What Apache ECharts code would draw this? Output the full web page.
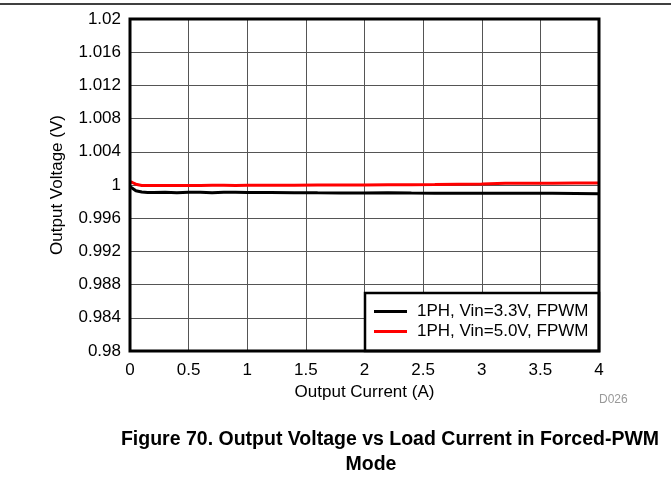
<!DOCTYPE html>
<html>
<head>
<meta charset="utf-8">
<script src="https://cdn.jsdelivr.net/npm/echarts@6/dist/echarts.min.js"></script>
<style>html,body{margin:0;padding:0;background:#fff;}#c{width:671px;height:486px;}</style>
</head>
<body>
<div id="c"></div>
<script>
const current = [0, 0.02, 0.05, 0.1, 0.15, 0.2, 0.3, 0.4, 0.5, 0.6, 0.7, 0.8, 0.9, 1.0, 1.2, 1.4, 1.6, 1.8, 2.0, 2.2, 2.4, 2.6, 2.8, 3.0, 3.2, 3.4, 3.6, 3.8, 4.0];
const vout33 = [0.9998, 0.9996, 0.9993, 0.99915, 0.9991, 0.9991, 0.99912, 0.99908, 0.99912, 0.99912, 0.99908, 0.99912, 0.99912, 0.9991, 0.9991, 0.99908, 0.99906, 0.99905, 0.99903, 0.99906, 0.99903, 0.99902, 0.999, 0.999, 0.99902, 0.999, 0.999, 0.99897, 0.99894];
const vout50 = [1.0004, 1.0003, 1.0001, 0.99995, 0.99993, 0.99993, 0.99993, 0.99995, 0.99993, 0.99995, 0.99997, 0.99997, 0.99995, 0.99997, 0.99997, 0.99998, 1.0000, 1.0000, 1.0000, 1.00002, 1.00003, 1.00005, 1.0001, 1.00012, 1.0002, 1.0002, 1.00022, 1.00024, 1.00025];
const yTickLabels = ['0.98','0.984','0.988','0.992','0.996','1','1.004','1.008','1.012','1.016','1.02'];
const xTickLabels = ['0','0.5','1','1.5','2','2.5','3','3.5','4'];
const seriesNames = ['1PH, Vin=3.3V, FPWM', '1PH, Vin=5.0V, FPWM'];

const FONT = '"Liberation Sans", Arial, sans-serif';
const G = {left: 130, top: 19, width: 469, height: 332};

const chart = echarts.init(document.getElementById('c'));
chart.setOption({
  animation: false,
  textStyle: {fontFamily: FONT},
  grid: {left: G.left, top: G.top, width: G.width, height: G.height, show: false},
  xAxis: {
    type: 'value', min: 0, max: 4, interval: 0.5,
    name: 'Output Current (A)', nameLocation: 'middle', nameGap: 29,
    nameTextStyle: {fontSize: 17, color: '#000', fontFamily: FONT},
    axisLine: {show: false},
    axisTick: {show: false},
    axisLabel: {fontSize: 17, color: '#000', margin: 11, fontFamily: FONT,
      formatter: v => xTickLabels[Math.round(v / 0.5)]},
    splitLine: {show: true, lineStyle: {color: '#555', width: 1}}
  },
  yAxis: {
    type: 'value', min: 0.98, max: 1.02, interval: 0.004,
    name: 'Output Voltage (V)', nameLocation: 'middle', nameGap: 64,
    nameTextStyle: {fontSize: 17, color: '#000', fontFamily: FONT},
    axisLine: {show: false},
    axisTick: {show: false},
    axisLabel: {fontSize: 17, color: '#000', margin: 9, fontFamily: FONT,
      formatter: v => yTickLabels[Math.round((v - 0.98) / 0.004)]},
    splitLine: {show: true, lineStyle: {color: '#555', width: 1}}
  },
  legend: {
    orient: 'vertical', left: 374, top: 303, padding: 0, z: 60,
    icon: 'rect', itemWidth: 33, itemHeight: 3, itemGap: 3,
    textStyle: {fontSize: 17, color: '#000', fontFamily: FONT, padding: [0, 0, 0, 5]},
    data: seriesNames
  },
  series: [
    {name: seriesNames[0], type: 'line', symbol: 'none', color: '#000',
     lineStyle: {width: 3, color: '#000'}, data: current.map((x, i) => [x, vout33[i]])},
    {name: seriesNames[1], type: 'line', symbol: 'none', color: '#ff0000',
     lineStyle: {width: 3, color: '#ff0000'}, data: current.map((x, i) => [x, vout50[i]])}
  ],
  graphic: [
    {type: 'line', z: 100, shape: {x1: 0, y1: 4, x2: 671, y2: 4}, style: {stroke: '#000', lineWidth: 1.5}},
    {type: 'rect', z: 100, shape: {x: G.left, y: G.top, width: G.width, height: G.height},
     style: {fill: null, stroke: '#000', lineWidth: 3}},
    {type: 'rect', z: 50, shape: {x: 365, y: 293, width: 234, height: 58},
     style: {fill: '#fff', stroke: '#000', lineWidth: 2.5}},
    {type: 'text', z: 100, x: 599, y: 394, style: {text: 'D026', fill: '#999', font: '12px ' + FONT}},
    {type: 'text', z: 100, x: 390, y: 430,
     style: {text: 'Figure 70. Output Voltage vs Load Current in Forced-PWM', fill: '#000', font: 'bold 19.5px ' + FONT, textAlign: 'center', textVerticalAlign: 'top'}},
    {type: 'text', z: 100, x: 371, y: 455,
     style: {text: 'Mode', fill: '#000', font: 'bold 19.5px ' + FONT, textAlign: 'center', textVerticalAlign: 'top'}}
  ]
});
</script>
</body>
</html>
